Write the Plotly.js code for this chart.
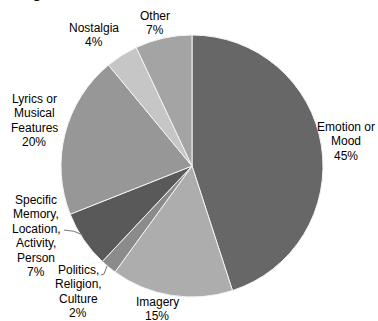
<!DOCTYPE html>
<html>
<head>
<meta charset="utf-8">
<script src="https://cdn.plot.ly/plotly-3.0.1.min.js"></script>
<style>html,body{margin:0;padding:0;background:#fff;}#chart{width:378px;height:321px;}</style>
</head>
<body>
<div id="chart"></div>
<script>
// Data (clockwise from 12 o'clock)
const categories = [
  "Emotion or<br>Mood",
  "Imagery",
  "Politics,<br>Religion,<br>Culture",
  "Specific<br>Memory,<br>Location,<br>Activity,<br>Person",
  "Lyrics or<br>Musical<br>Features",
  "Nostalgia",
  "Other"
];
const values = [45, 15, 2, 7, 20, 4, 7];
const colors = ["#676767", "#adadad", "#8b8b8b", "#595959", "#979797", "#c6c6c6", "#a4a4a4"];
const pageText = "expressed in the music of the";

// Layout helpers (pixel -> paper)
const W = 378, H = 321;
const px = x => x / W;
const py = y => 1 - y / H;

// label anchor: centre x, first-line y (px), line step
const labelPos = [
  [346, 127],
  [157, 302],
  [78, 270],
  [36, 200],
  [34, 99],
  [94, 28],
  [155, 16]
];
const lineStep = 14.4;

const annotations = [];
categories.forEach((c, i) => {
  const lines = (c + "<br>" + values[i] + "%").split("<br>");
  lines.forEach((ln, j) => {
    annotations.push({
      text: ln, xref: "paper", yref: "paper",
      x: px(labelPos[i][0]), y: py(labelPos[i][1] + j * lineStep),
      xanchor: "center", yanchor: "middle", showarrow: false,
      font: {family: "Liberation Sans, Arial, sans-serif", size: 12, color: "#000"}
    });
  });
});
annotations.push({
  text: pageText, xref: "paper", yref: "paper", x: px(10), y: 1,
  xanchor: "left", yanchor: "bottom", yshift: -2, showarrow: false, borderpad: 0,
  font: {family: "Liberation Serif, Times New Roman, serif", size: 24, color: "#000"}
});

const shapes = [
  {type: "path", xref: "paper", yref: "paper",
   path: `M ${px(64)} ${py(230)} Q ${px(74)} ${py(230)} ${px(83)} ${py(235)}`,
   line: {color: "#777", width: 1}},
  {type: "path", xref: "paper", yref: "paper",
   path: `M ${px(101)} ${py(275)} L ${px(104)} ${py(274)} L ${px(107)} ${py(266)}`,
   line: {color: "#777", width: 1}}
];

const data = [{
  type: "pie",
  labels: categories,
  values: values,
  sort: false,
  direction: "clockwise",
  rotation: 0,
  textinfo: "none",
  hoverinfo: "none",
  marker: {colors: colors, line: {color: "#f4f4f4", width: 1}},
  domain: {x: [px(61), px(323)], y: [py(297), py(35)]},
  showlegend: false
}];

const layout = {
  width: W, height: H,
  margin: {l: 0, r: 0, t: 0, b: 0},
  paper_bgcolor: "#fff",
  showlegend: false,
  annotations: annotations,
  shapes: shapes
};

Plotly.newPlot("chart", data, layout, {displayModeBar: false, staticPlot: true});
</script>
</body>
</html>
